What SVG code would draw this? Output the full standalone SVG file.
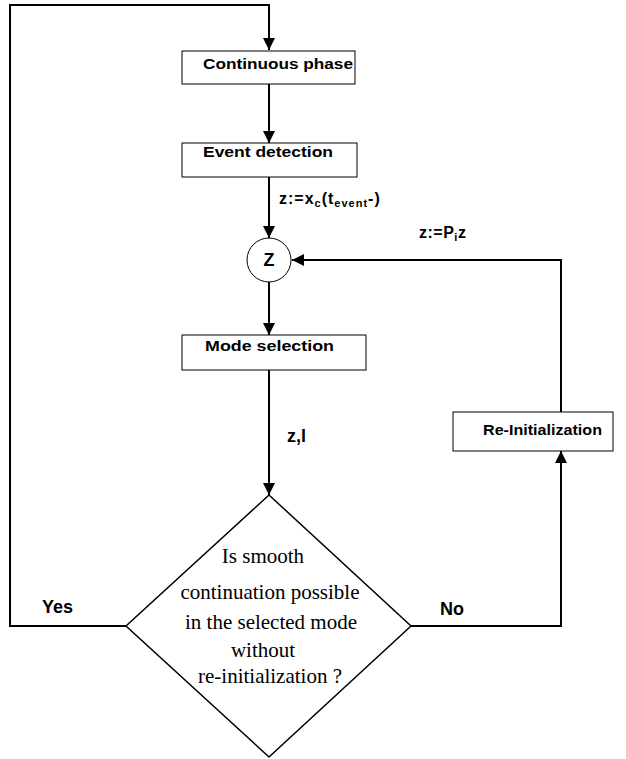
<svg xmlns="http://www.w3.org/2000/svg" width="626" height="759" viewBox="0 0 626 759">
<style>
.box{fill:#fff;stroke:#000;stroke-width:1}
.ln{fill:none;stroke:#000;stroke-width:2}
.lbl{font-family:"Liberation Sans",Arial,sans-serif;font-size:15px;fill:#000;font-weight:600}
.big{font-family:"Liberation Sans",Arial,sans-serif;font-size:18px;font-weight:bold;fill:#000}
.q{font-family:"Liberation Serif","Times New Roman",serif;font-size:21px;fill:#000;text-anchor:middle}
.m{font-family:"Liberation Sans",Arial,sans-serif;font-size:16px;fill:#000;font-weight:600}
</style>
<defs>
<marker id="ah" viewBox="0 0 10 10" refX="10" refY="5" markerWidth="6.5" markerHeight="6" orient="auto" markerUnits="strokeWidth">
<path d="M0,0 L10,5 L0,10 Z" fill="#000"/>
</marker>
</defs>
<g id="connectors">
<polyline class="ln" points="126,626 10,626 10,5 269,5 269,50" marker-end="url(#ah)"/>
<line class="ln" x1="269" y1="84" x2="269" y2="143" marker-end="url(#ah)"/>
<line class="ln" x1="269" y1="177" x2="269" y2="238" marker-end="url(#ah)"/>
<line class="ln" x1="269" y1="282" x2="269" y2="335" marker-end="url(#ah)"/>
<line class="ln" x1="269" y1="370" x2="269" y2="495" marker-end="url(#ah)"/>
<polyline class="ln" points="411,626 561,626 561,451" marker-end="url(#ah)"/>
<polyline class="ln" points="561,412 561,260 292,260" marker-end="url(#ah)"/>
<text class="m" x="279" y="204" letter-spacing="1">z:=x<tspan font-size="11" dy="3">c</tspan><tspan dy="-3">(t</tspan><tspan font-size="11" dy="3">event</tspan><tspan dy="-3">-)</tspan></text>
<text class="m" x="419" y="238" letter-spacing="0.5">z:=P<tspan font-size="11" dy="3">i</tspan><tspan dy="-3">z</tspan></text>
<text class="big" x="287" y="442">z,l</text>
<text class="big" x="42" y="613">Yes</text>
<text class="big" x="440" y="615">No</text>
</g>
<g id="continuous">
<rect class="box" x="182" y="51" width="173" height="33"/>
<text class="lbl" x="203" y="69" textLength="150" lengthAdjust="spacingAndGlyphs">Continuous phase</text>
</g>
<g id="event">
<rect class="box" x="182" y="143" width="175" height="34"/>
<text class="lbl" x="203" y="157" textLength="130" lengthAdjust="spacingAndGlyphs">Event detection</text>
</g>
<g id="z">
<circle cx="269" cy="260" r="22" fill="#fff" stroke="#000" stroke-width="1"/>
<text class="big" x="269" y="266" text-anchor="middle" font-size="16">Z</text>
</g>
<g id="mode">
<rect class="box" x="182" y="335" width="184" height="35"/>
<text class="lbl" x="205" y="351" textLength="129" lengthAdjust="spacingAndGlyphs">Mode selection</text>
</g>
<g id="reinit">
<rect class="box" x="453" y="412" width="160" height="39"/>
<text class="lbl" x="483" y="435" textLength="119" lengthAdjust="spacingAndGlyphs">Re-Initialization</text>
</g>
<g id="decision">
<polygon points="269,495 411,626 269,757 126,626" fill="#fff" stroke="#000" stroke-width="1.5"/>
<text class="q" x="263" y="563">Is smooth</text>
<text class="q" x="270" y="599">continuation possible</text>
<text class="q" x="271" y="629">in the selected mode</text>
<text class="q" x="263" y="657">without</text>
<text class="q" x="270" y="683">re-initialization ?</text>
</g>
</svg>
